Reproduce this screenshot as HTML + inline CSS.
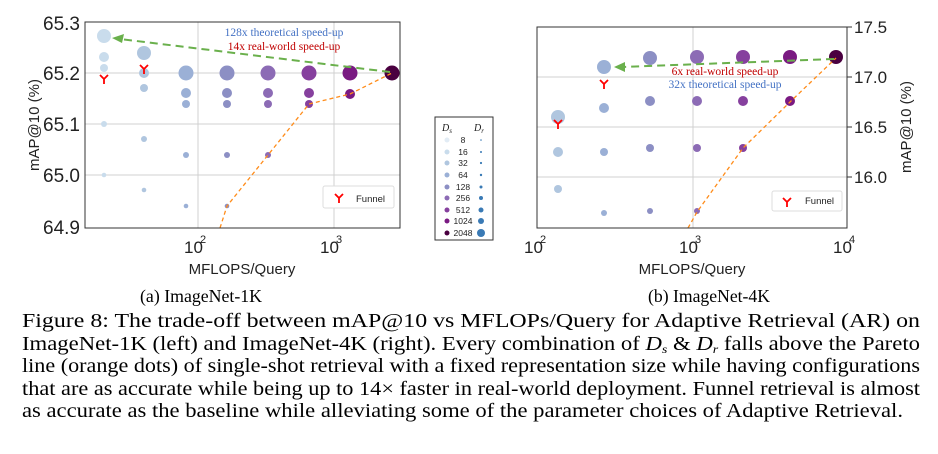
<!DOCTYPE html>
<html><head><meta charset="utf-8"><style>
body{margin:0;background:#fff;width:938px;height:454px;overflow:hidden}
svg{display:block}
.ax{font-family:"Liberation Sans",sans-serif;fill:#222}
.cap{font-family:"Liberation Serif",serif;font-size:19.5px;fill:#000}
.sub{font-family:"Liberation Serif",serif;font-size:17.5px;fill:#000}
</style></head><body>
<svg width="938" height="454" viewBox="0 0 938 454">
<!-- LEFT PLOT -->
<rect x="85" y="22" width="315" height="206" fill="#fff"/>
<g stroke="#d0d0d0" stroke-width="1">
<line x1="85" x2="400" y1="73" y2="73"/><line x1="85" x2="400" y1="124" y2="124"/><line x1="85" x2="400" y1="175" y2="175"/>
<line x1="198" x2="198" y1="22" y2="228"/><line x1="334" x2="334" y1="22" y2="228"/>
</g>
<g class="ax" font-size="19" text-anchor="end">
<text x="80" y="30">65.3</text><text x="80" y="80">65.2</text><text x="80" y="131">65.1</text><text x="80" y="182">65.0</text><text x="80" y="234">64.9</text>
</g>
<g class="ax" font-size="17"><text x="184" y="253">10</text><text x="200" y="243" font-size="11">2</text><text x="320" y="253">10</text><text x="336" y="243" font-size="11">3</text></g>
<text class="ax" x="242" y="274" font-size="15" text-anchor="middle">MFLOPS/Query</text>
<text class="ax" x="39" y="125" font-size="15" text-anchor="middle" transform="rotate(-90 39 125)">mAP@10 (%)</text>
<g>
<circle cx="104" cy="36" r="7" fill="#c9dcec"/><circle cx="104" cy="57" r="5" fill="#c9dcec"/><circle cx="104" cy="68" r="4" fill="#c9dcec"/><circle cx="104" cy="124" r="3" fill="#c9dcec"/><circle cx="104" cy="175" r="2.3" fill="#c9dcec"/>
<circle cx="144" cy="53" r="7" fill="#b0c6df"/><circle cx="144" cy="73" r="5" fill="#b0c6df"/><circle cx="144" cy="88" r="4" fill="#b0c6df"/><circle cx="144" cy="139" r="3" fill="#b0c6df"/><circle cx="144" cy="190" r="2.3" fill="#b0c6df"/>
<circle cx="186" cy="73" r="7.5" fill="#9bb0d6"/><circle cx="186" cy="93" r="5" fill="#9bb0d6"/><circle cx="186" cy="104" r="4" fill="#9bb0d6"/><circle cx="186" cy="155" r="3" fill="#9bb0d6"/><circle cx="186" cy="206" r="2.3" fill="#9bb0d6"/>
<circle cx="227" cy="73" r="7.5" fill="#8c8fc4"/><circle cx="227" cy="93" r="5" fill="#8c8fc4"/><circle cx="227" cy="104" r="4" fill="#8c8fc4"/><circle cx="227" cy="155" r="3" fill="#8c8fc4"/><circle cx="227" cy="206" r="2.3" fill="#8c8fc4"/>
<circle cx="268" cy="73" r="7.5" fill="#8c6bb5"/><circle cx="268" cy="93" r="5" fill="#8c6bb5"/><circle cx="268" cy="104" r="4" fill="#8c6bb5"/><circle cx="268" cy="155" r="3" fill="#8c6bb5"/>
<circle cx="309" cy="73" r="7.5" fill="#86409e"/><circle cx="309" cy="93" r="5" fill="#86409e"/><circle cx="309" cy="104" r="4" fill="#86409e"/>
<circle cx="350" cy="73" r="7.5" fill="#7a1a82"/><circle cx="350" cy="94" r="5" fill="#7a1a82"/>
<circle cx="392" cy="73" r="7.5" fill="#4a0040"/>
</g>
<polyline points="220,228 227,206 268,155 309,104 350,94 392,73" fill="none" stroke="#ff8c1a" stroke-width="1.3" stroke-dasharray="4,3"/>
<line x1="390" y1="72" x2="120" y2="39" stroke="#6ab04c" stroke-width="2" stroke-dasharray="8,5"/>
<polygon points="112,38 124,34 122,43" fill="#6ab04c"/>
<g stroke="#f00" stroke-width="1.8" fill="none"><path d="M100,75 L104,79 L108,75 M104,79 V84"/><path d="M140,65 L144,69 L148,65 M144,69 V74"/></g>
<text x="284" y="36" font-family="Liberation Serif,serif" font-size="11.5" fill="#4472c4" text-anchor="middle">128x theoretical speed-up</text>
<text x="284" y="50" font-family="Liberation Serif,serif" font-size="11.5" fill="#c00000" text-anchor="middle">14x real-world speed-up</text>
<rect x="323" y="186" width="71" height="22" fill="#fff" stroke="#ddd" rx="2"/>
<path d="M335,194 L339,198 L343,194 M339,198 V203" stroke="#f00" stroke-width="1.8" fill="none"/>
<text x="356" y="202" class="ax" font-size="9.5">Funnel</text>
<rect x="85" y="22" width="315" height="206" fill="none" stroke="#333" stroke-width="1"/>

<!-- LEGEND -->
<rect x="435" y="117" width="58" height="123" fill="#fff" stroke="#333" stroke-width="1"/>
<g font-family="Liberation Serif,serif" font-style="italic" font-size="10" fill="#222"><text x="442" y="131">D<tspan font-size="7" dy="2">s</tspan></text><text x="474" y="131">D<tspan font-size="7" dy="2">r</tspan></text></g>
<g class="ax" font-size="8.5" text-anchor="middle">
<circle cx="447" cy="140" r="2.5" fill="#e2ecf5"/><text x="463" y="143">8</text><circle cx="481" cy="140" r="0.8" fill="#3a7ab5"/>
<circle cx="447" cy="152" r="2.5" fill="#c9dcec"/><text x="463" y="155">16</text><circle cx="481" cy="152" r="1" fill="#3a7ab5"/>
<circle cx="447" cy="163" r="2.5" fill="#b0c6df"/><text x="463" y="166">32</text><circle cx="481" cy="163" r="1.1" fill="#3a7ab5"/>
<circle cx="447" cy="175" r="2.5" fill="#9bb0d6"/><text x="463" y="178">64</text><circle cx="481" cy="175" r="1.2" fill="#3a7ab5"/>
<circle cx="447" cy="187" r="2.5" fill="#8c8fc4"/><text x="463" y="190">128</text><circle cx="481" cy="187" r="1.5" fill="#3a7ab5"/>
<circle cx="447" cy="198" r="2.5" fill="#8c6bb5"/><text x="463" y="201">256</text><circle cx="481" cy="198" r="2" fill="#3a7ab5"/>
<circle cx="447" cy="210" r="2.5" fill="#86409e"/><text x="463" y="213">512</text><circle cx="481" cy="210" r="2.5" fill="#3a7ab5"/>
<circle cx="447" cy="221" r="2.5" fill="#7a1a82"/><text x="463" y="224">1024</text><circle cx="481" cy="221" r="3" fill="#3a7ab5"/>
<circle cx="447" cy="233" r="2.5" fill="#4a0040"/><text x="463" y="236">2048</text><circle cx="481" cy="233" r="4" fill="#3a7ab5"/>
</g>

<!-- RIGHT PLOT -->
<g stroke="#d0d0d0" stroke-width="1">
<line x1="537" x2="847" y1="77" y2="77"/><line x1="537" x2="847" y1="127" y2="127"/><line x1="537" x2="847" y1="177" y2="177"/>
<line x1="693" x2="693" y1="27" y2="228"/>
</g>
<g stroke="#333"><line x1="847" x2="852" y1="27" y2="27"/><line x1="847" x2="852" y1="77" y2="77"/><line x1="847" x2="852" y1="127" y2="127"/><line x1="847" x2="852" y1="177" y2="177"/></g>
<g class="ax" font-size="17"><text x="854" y="33">17.5</text><text x="854" y="83">17.0</text><text x="854" y="133">16.5</text><text x="854" y="183">16.0</text></g>
<g class="ax" font-size="17"><text x="524" y="253">10</text><text x="540" y="243" font-size="11">2</text><text x="679" y="253">10</text><text x="695" y="243" font-size="11">3</text><text x="833" y="253">10</text><text x="849" y="243" font-size="11">4</text></g>
<text class="ax" x="692" y="274" font-size="15" text-anchor="middle">MFLOPS/Query</text>
<text class="ax" x="911" y="127" font-size="15" text-anchor="middle" transform="rotate(-90 911 127)">mAP@10 (%)</text>
<g>
<circle cx="558" cy="117" r="7" fill="#b0c6df"/><circle cx="558" cy="152" r="5" fill="#b0c6df"/><circle cx="558" cy="189" r="4" fill="#b0c6df"/>
<circle cx="604" cy="67" r="7" fill="#9bb0d6"/><circle cx="604" cy="108" r="5" fill="#9bb0d6"/><circle cx="604" cy="152" r="4" fill="#9bb0d6"/><circle cx="604" cy="213" r="3" fill="#9bb0d6"/>
<circle cx="650" cy="58" r="7" fill="#8c8fc4"/><circle cx="650" cy="101" r="5" fill="#8c8fc4"/><circle cx="650" cy="148" r="4" fill="#8c8fc4"/><circle cx="650" cy="211" r="3" fill="#8c8fc4"/>
<circle cx="697" cy="57" r="7" fill="#8c6bb5"/><circle cx="697" cy="101" r="5" fill="#8c6bb5"/><circle cx="697" cy="148" r="4" fill="#8c6bb5"/><circle cx="697" cy="211" r="3" fill="#8c6bb5"/>
<circle cx="743" cy="57" r="7" fill="#86409e"/><circle cx="743" cy="101" r="5" fill="#86409e"/><circle cx="743" cy="148" r="4" fill="#86409e"/>
<circle cx="790" cy="57" r="7" fill="#7a1a82"/><circle cx="790" cy="101" r="5" fill="#7a1a82"/>
<circle cx="836" cy="57" r="7" fill="#4a0040"/>
</g>
<polyline points="688,228 697,212 743,148 790,102 836,58" fill="none" stroke="#ff8c1a" stroke-width="1.3" stroke-dasharray="4,3"/>
<line x1="834" y1="59" x2="622" y2="67" stroke="#6ab04c" stroke-width="2" stroke-dasharray="8,5"/>
<polygon points="614,67 625,62 625,72" fill="#6ab04c"/>
<g stroke="#f00" stroke-width="1.8" fill="none"><path d="M554,120 L558,124 L562,120 M558,124 V129"/><path d="M600,80 L604,84 L608,80 M604,84 V89"/></g>
<text x="725" y="75" font-family="Liberation Serif,serif" font-size="11.5" fill="#c00000" text-anchor="middle">6x real-world speed-up</text>
<text x="725" y="88" font-family="Liberation Serif,serif" font-size="11.5" fill="#4472c4" text-anchor="middle">32x theoretical speed-up</text>
<rect x="772" y="191" width="70" height="20" fill="#fff" stroke="#ddd" rx="2"/>
<path d="M783,198 L787,202 L791,198 M787,202 V207" stroke="#f00" stroke-width="1.8" fill="none"/>
<text x="805" y="204" class="ax" font-size="9.5">Funnel</text>
<rect x="537" y="27" width="310" height="201" fill="none" stroke="#333" stroke-width="1"/>

<!-- CAPTIONS -->
<text class="sub" x="140" y="302" textLength="122" lengthAdjust="spacingAndGlyphs">(a) ImageNet-1K</text>
<text class="sub" x="648" y="302" textLength="122" lengthAdjust="spacingAndGlyphs">(b) ImageNet-4K</text>
<text class="cap" x="22" y="327" textLength="898" lengthAdjust="spacingAndGlyphs">Figure 8:  The trade-off between mAP@10 vs MFLOPs/Query for Adaptive Retrieval (AR) on</text>
<text class="cap" x="22" y="350" textLength="898" lengthAdjust="spacingAndGlyphs">ImageNet-1K (left) and ImageNet-4K (right). Every combination of <tspan font-style="italic">D<tspan font-size="12" dy="3">s</tspan></tspan><tspan dy="-3"> &amp; </tspan><tspan font-style="italic">D<tspan font-size="12" dy="3">r</tspan></tspan><tspan dy="-3"> falls above the Pareto</tspan></text>
<text class="cap" x="22" y="372" textLength="898" lengthAdjust="spacingAndGlyphs">line (orange dots) of single-shot retrieval with a fixed representation size while having configurations</text>
<text class="cap" x="22" y="395" textLength="898" lengthAdjust="spacingAndGlyphs">that are as accurate while being up to 14× faster in real-world deployment. Funnel retrieval is almost</text>
<text class="cap" x="22" y="417" textLength="881" lengthAdjust="spacingAndGlyphs">as accurate as the baseline while alleviating some of the parameter choices of Adaptive Retrieval.</text>
</svg>
</body></html>
